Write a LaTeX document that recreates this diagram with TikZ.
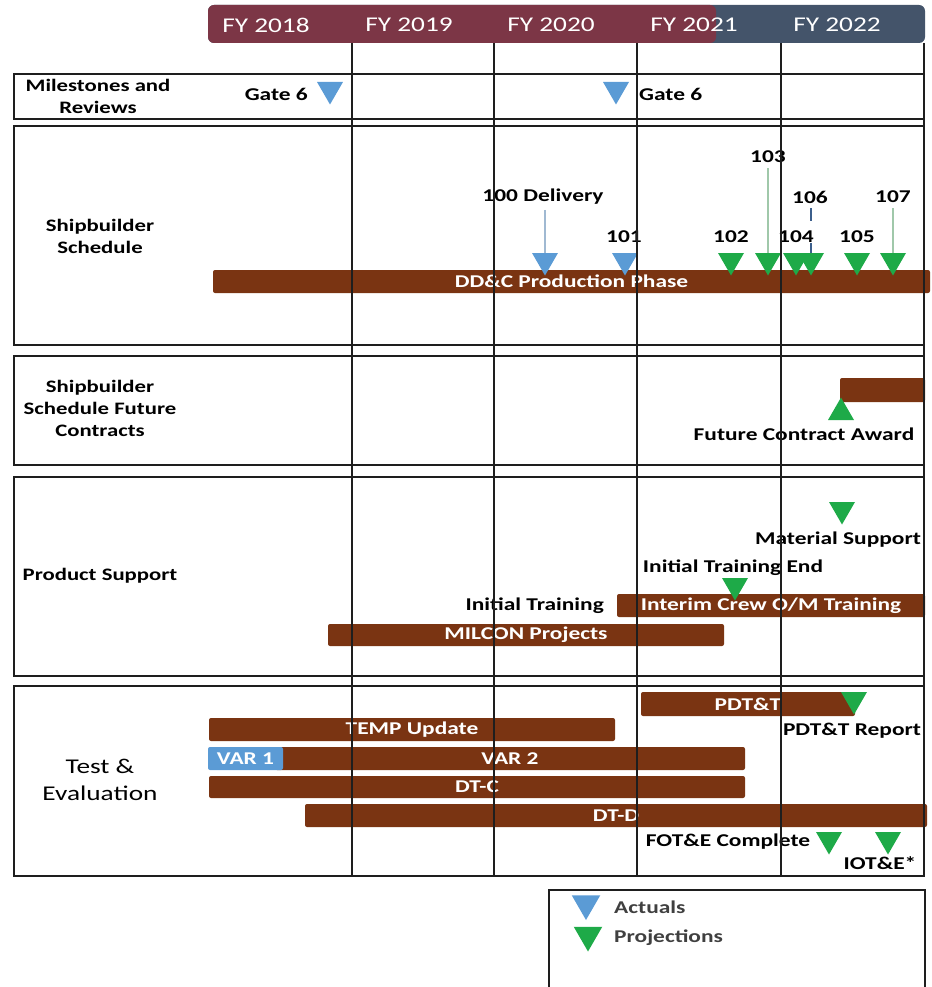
\documentclass[tikz,border=0pt]{standalone}
\usepackage{fontspec}
\setmainfont{Carlito}[FakeStretch=1.3]
\usepackage{tikz}
\usetikzlibrary{shapes.geometric}
\usetikzlibrary{positioning}
\definecolor{fyred}{RGB}{124,54,70}
\definecolor{fyblue}{RGB}{68,84,106}
\definecolor{barbrown}{RGB}{122,52,18}
\definecolor{actualblue}{RGB}{91,155,213}
\definecolor{projgreen}{RGB}{30,170,72}
\definecolor{gridline}{RGB}{30,30,30}
\definecolor{stemblue}{RGB}{160,185,210}
\definecolor{stemgreen}{RGB}{160,200,170}
\definecolor{dashblue}{RGB}{60,95,140}
\definecolor{legendgray}{RGB}{64,64,64}
\tikzset{
  lbl/.style={font=\bfseries\fontsize{18}{20}\selectfont, inner sep=0pt, align=center},
  sect/.style={font=\bfseries\fontsize{17.5}{22}\selectfont, inner sep=0pt, align=center},
  fy/.style={text=white, font=\fontsize{21}{24}\selectfont, inner sep=0pt},
  bar/.style={fill=barbrown, rounded corners=2pt, text=white, font=\bfseries\fontsize{18}{20}\selectfont, inner sep=0pt, minimum height=23pt},
  down/.style={regular polygon, regular polygon sides=3, shape border rotate=180, minimum size=30pt, inner sep=0pt},
  up/.style={regular polygon, regular polygon sides=3, minimum size=30pt, inner sep=0pt},
  actual/.style={down, fill=actualblue},
  proj/.style={down, fill=projgreen},
  box/.style={draw=gridline, line width=1.5pt},
  stem/.style={line width=1.5pt, shorten <=5pt}
}
\begin{document}
\begin{tikzpicture}[x=1pt, y=-1pt]
\useasboundingbox (0,0) rectangle (931,987);
\fill[fyblue, rounded corners=6pt] (208,5) rectangle (925,43);
\fill[fyred, rounded corners=6pt] (208,5) rectangle (716,43);
\node[fy] (fy18) at (266,25) {FY 2018};
\node[fy] (fy19) at (409,25) {FY 2019};
\node[fy] (fy20) at (551,25) {FY 2020};
\node[fy] (fy21) at (694,25) {FY 2021};
\node[fy] (fy22) at (837,25) {FY 2022};

\foreach \t/\b in {74/119,126/345,356/465,477/676,686/876}
  \draw[box] (14,\t) rectangle (924,\b);

\node[sect] (mil) at (98,96) {Milestones and\\Reviews};
\node[sect] (ship) at (100,236) {Shipbuilder\\Schedule};
\node[sect] (fut) at (100,408) {Shipbuilder\\Schedule Future\\Contracts};
\node[sect] (prod) at (100,576) {Product Support};
\node[sect, font=\fontsize{21}{27}\selectfont] (te) at (100,780) {Test \&\\Evaluation};

\node[actual] (gate1) at (330,89.5) {};
\node[actual] (gate2) at (616,89.5) {};
\node[lbl, anchor=east] (lgate1) at (308,94) {Gate 6};
\node[lbl, anchor=west] (lgate2) at (639,94) {Gate 6};

\node[bar, minimum width=717pt] (ddc) at (571.5,281.5) {DD\&C Production Phase};
\node[lbl] (l100) at (543,197) {100 Delivery};
\node[lbl] (l101) at (624,237) {101};
\node[lbl] (l102) at (731,237) {102};
\node[lbl] (l103) at (768,157) {103};
\node[lbl] (l104) at (796,237) {104};
\node[lbl] (l106) at (810,197) {106};
\node[lbl] (l105) at (857,237) {105};
\node[lbl] (l107) at (893,197) {107};
\node[actual] (s100) at (545,260.5) {};
\node[actual] (s101) at (625,260.5) {};
\node[proj] (s102) at (731,260.5) {};
\node[proj] (s103) at (768,260.5) {};
\node[proj] (s104) at (796,260.5) {};
\node[proj] (s106) at (811,260.5) {};
\node[proj] (s105) at (857,260.5) {};
\node[proj] (s107) at (893,260.5) {};
\draw[stem, stemblue] (l100.south -| s100.north) -- (s100.north);
\draw[stem, stemgreen] (l103.south -| s103.north) -- (s103.north);
\draw[stem, stemgreen] (l107.south -| s107.north) -- (s107.north);
\draw[stem, dashblue, line width=1.2pt, dash pattern=on 13pt off 22pt] (l106.south -| s106.north) -- (s106.north);

\node[bar, minimum width=85pt, minimum height=24pt] (fcbar) at (882.5,390) {};
\node[up, fill=projgreen] (fcaward) at (841,412.5) {};
\node[lbl] (lfca) at (804,434) {Future Contract Award};

\node[proj] (matsup) at (842,509.5) {};
\node[lbl] (lmat) at (838,540) {Material Support};
\node[lbl] (ltrend) at (733,568) {Initial Training End};
\node[bar, minimum width=308pt] (icrew) at (771,605.5) {Interim Crew O/M Training};
\node[proj] (trend) at (735,585.5) {};
\node[lbl, anchor=east] (ltrain) at (604,606) {Initial Training};
\node[bar, minimum width=396pt, minimum height=22pt] (milcon) at (526,635) {MILCON Projects};

\node[bar, minimum width=214pt, minimum height=24pt] (pdtt) at (748,704) {PDT\&T};
\node[proj] (pdttr) at (854,699.5) {};
\node[lbl] (lpdttr) at (852,731) {PDT\&T Report};
\node[bar, minimum width=406pt] (temp) at (412,729.5) {TEMP Update};
\node[bar, minimum width=470pt] (var2) at (510,758.5) {VAR 2};
\node[bar, fill=actualblue, minimum width=75pt] (var1) at (245.5,758.5) {VAR 1};
\node[bar, minimum width=536pt, minimum height=22pt] (dtc) at (477,787) {DT-C};
\node[bar, minimum width=622pt] (dtd) at (616,815.5) {DT-D};
\node[proj] (fote) at (829,839.5) {};
\node[proj] (iote) at (888,839.5) {};
\node[lbl] (lfote) at (728,842) {FOT\&E Complete};
\node[lbl] (liote) at (880,863) {IOT\&E*};

\foreach \x in {352,494,637,781,924}
  \draw[gridline, line width=1.6pt] (\x,43) -- (\x,876);

\draw[box, line width=1.2pt] (549,987) |- (925,890) -- (925,987);
\node[actual, minimum size=33pt] (legact) at (586,903.5) {};
\node[proj, minimum size=33pt] (legproj) at (588,935) {};
\node[lbl, text=legendgray, anchor=west] (tact) at (614,907) {Actuals};
\node[lbl, text=legendgray, anchor=west] (tproj) at (614,938) {Projections};
\end{tikzpicture}
\end{document}
